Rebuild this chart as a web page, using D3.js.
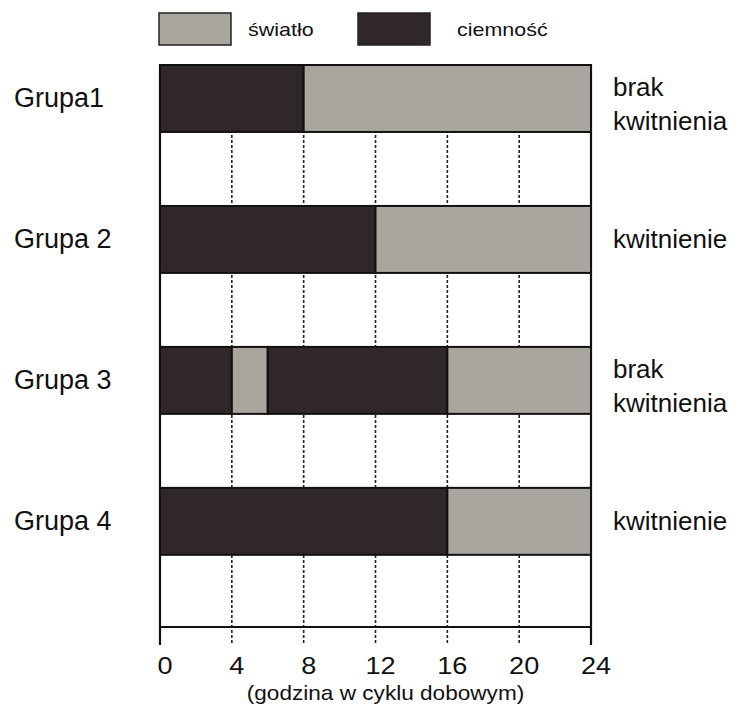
<!DOCTYPE html>
<html>
<head>
<meta charset="utf-8">
<script src="https://cdn.jsdelivr.net/npm/d3@7"></script>
<style>
  body { margin: 0; background: #fff; }
  text { font-family: "Liberation Sans", Arial, sans-serif; fill: #111; }
</style>
</head>
<body>
<div id="plot"></div>
<script>
// groups, segments per group (start hour, end hour, type), outcomes
var groups = ["Grupa1", "Grupa 2", "Grupa 3", "Grupa 4"];
var segments = [
  [[0, 8, "dark"], [8, 24, "light"]],
  [[0, 12, "dark"], [12, 24, "light"]],
  [[0, 4, "dark"], [4, 6, "light"], [6, 16, "dark"], [16, 24, "light"]],
  [[0, 16, "dark"], [16, 24, "light"]]
];
var outcomes = [["brak", "kwitnienia"], ["kwitnienie"], ["brak", "kwitnienia"], ["kwitnienie"]];
var hourTicks = [0, 4, 8, 12, 16, 20, 24];
var legendItems = [["light", "światło"], ["dark", "ciemność"]];
var axisTitle = "(godzina w cyklu dobowym)";

var colors = { light: "#a9a59f", dark: "#2f272a" };
var stretch = 1.13; // the source text is a bit wider than Liberation Sans

var svg = d3.select("div#plot")
  .append("svg")
  .attr("width", 740)
  .attr("height", 706);

var x = d3.scaleLinear().domain([0, 24]).range([160, 591]);
var y = d3.scaleBand().domain(groups).range([65, 627])
  .paddingInner(0.525).paddingOuter(0.256).align(0);

function wide(sel, px, py) {
  sel.attr("transform", function(d, i) {
    return "translate(" + px(d, i) + "," + py(d, i) + ") scale(" + stretch + ",1)";
  });
}

// dashed grid lines (drawn first so bars cover them)
svg.selectAll(".grid")
  .data(hourTicks.filter(function(d) { return d > 0 && d < 24; }))
  .enter().append("line")
  .attr("class", "grid")
  .attr("x1", function(d) { return x(d); })
  .attr("x2", function(d) { return x(d); })
  .attr("y1", y.range()[0])
  .attr("y2", y.range()[1] + 18)
  .attr("stroke", "#222")
  .attr("stroke-width", 1.6)
  .attr("stroke-dasharray", "3,2");

// solid end lines at 0 and 24
svg.selectAll(".edge")
  .data([0, 24])
  .enter().append("line")
  .attr("class", "edge")
  .attr("x1", function(d) { return x(d); })
  .attr("x2", function(d) { return x(d); })
  .attr("y1", y.range()[0])
  .attr("y2", y.range()[1] + 18)
  .attr("stroke", "#111")
  .attr("stroke-width", 2.2);

// axis line
svg.append("line")
  .attr("x1", x(0)).attr("x2", x(24))
  .attr("y1", y.range()[1]).attr("y2", y.range()[1])
  .attr("stroke", "#111")
  .attr("stroke-width", 2);

// bars
var rows = svg.selectAll(".row")
  .data(groups)
  .enter().append("g")
  .attr("class", "row");

rows.selectAll("rect")
  .data(function(g, i) { return segments[i].map(function(s) { return { g: g, s: s }; }); })
  .enter().append("rect")
  .attr("x", function(d) { return x(d.s[0]); })
  .attr("width", function(d) { return x(d.s[1]) - x(d.s[0]); })
  .attr("y", function(d) { return y(d.g); })
  .attr("height", y.bandwidth())
  .attr("fill", function(d) { return colors[d.s[2]]; })
  .attr("stroke", "#111")
  .attr("stroke-width", 2);

// group labels
svg.selectAll(".glabel")
  .data(groups)
  .enter().append("text")
  .attr("class", "glabel")
  .attr("x", 14)
  .attr("y", function(d) { return y(d) + y.bandwidth() / 2 + 9; })
  .attr("font-size", 27)
  .attr("textLength", null)
  .text(function(d) { return d; });

// outcome labels
svg.selectAll(".olabel")
  .data(outcomes)
  .enter().append("text")
  .attr("class", "olabel")
  .attr("font-size", 26)
  .each(function(lines, i) {
    var cy = y(groups[i]) + y.bandwidth() / 2;
    var t = d3.select(this);
    lines.forEach(function(l, j) {
      t.append("tspan")
        .attr("x", 613)
        .attr("y", cy + 9 + (lines.length - 1) * 6 + (j - (lines.length - 1) / 2) * 34)
        .text(l);
    });
  });

// tick labels
svg.selectAll(".tick")
  .data(hourTicks)
  .enter().append("text")
  .attr("class", "tick")
  .attr("text-anchor", "middle")
  .attr("font-size", 24)
  .text(function(d) { return d; })
  .call(wide, function(d) { return x(d) + 5; }, function() { return 674; });

svg.append("text")
  .datum(axisTitle)
  .attr("text-anchor", "middle")
  .attr("font-size", 20)
  .text(axisTitle)
  .call(wide, function() { return (x(0) + x(24)) / 2 + 10; }, function() { return 700; });

// legend
var leg = svg.selectAll(".leg")
  .data(legendItems)
  .enter().append("g")
  .attr("class", "leg")
  .attr("transform", function(d, i) { return "translate(" + (159 + i * 199) + ",13)"; });

leg.append("rect")
  .attr("width", 72)
  .attr("height", 32)
  .attr("fill", function(d) { return colors[d[0]]; })
  .attr("stroke", "#222")
  .attr("stroke-width", 1.5);

leg.append("text")
  .attr("font-size", 19)
  .text(function(d) { return d[1]; })
  .call(wide, function(d, i) { return i === 0 ? 89 : 99; }, function() { return 23; });
</script>
</body>
</html>
